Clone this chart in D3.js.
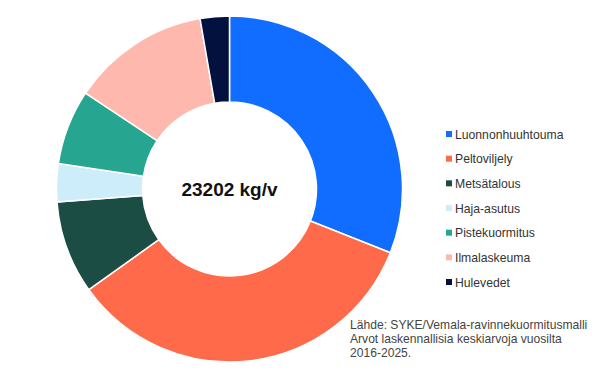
<!DOCTYPE html>
<html><head><meta charset="utf-8">
<script src="https://cdn.jsdelivr.net/npm/d3@7"></script>
<style>body{margin:0;background:#fff}svg{display:block}</style>
</head><body><div id="chart"></div>
<script>
const categories = ["Luonnonhuuhtouma","Peltoviljely","Metsätalous","Haja-asutus","Pistekuormitus","Ilmalaskeuma","Hulevedet"];
const values = [7193, 7914, 2017, 825, 1624, 2997, 632];
const colors = ["#116dff","#ff6b4a","#1b4d45","#ccedf9","#26a690","#ffb8ad","#03113f"];
const centerLabel = "23202 kg/v";
const sourceLines = ["Lähde: SYKE/Vemala-ravinnekuormitusmalli","Arvot laskennallisia keskiarvoja vuosilta","2016-2025."];

const W = 600, H = 379;
const svg = d3.select("#chart").append("svg").attr("width", W).attr("height", H);
const cx = 229.5, cy = 189, rOut = 173, rIn = 87;
const pie = d3.pie().sort(null).value(d => d)(values);
const arc = d3.arc().innerRadius(rIn).outerRadius(rOut);
const color = d3.scaleOrdinal().domain(categories).range(colors);
const g = svg.append("g").attr("transform", `translate(${cx},${cy})`);
g.selectAll("path").data(pie).join("path")
  .attr("d", arc)
  .attr("fill", (d,i) => color(categories[i]))
  .attr("stroke", "#fff").attr("stroke-width", 1.5).attr("stroke-linejoin","round");
g.append("text").attr("text-anchor","middle").attr("y", 7)
  .attr("font-family","Liberation Sans, Arial, sans-serif").attr("font-weight","bold")
  .attr("font-size", 19).attr("fill","#111").text(centerLabel);

const ly = d3.scalePoint().domain(categories).range([134, 282]);
const leg = svg.append("g");
categories.forEach(c => {
  leg.append("rect").attr("x", 446).attr("y", ly(c) - 3).attr("width", 6).attr("height", 6).attr("fill", color(c));
  leg.append("text").attr("x", 455).attr("y", ly(c) + 4.5)
    .attr("font-family","Liberation Sans, Arial, sans-serif").attr("font-size", 12.2)
    .attr("fill","#333").text(c);
});
sourceLines.forEach((t,i) => {
  svg.append("text").attr("x", 350).attr("y", 329 + i*14)
    .attr("font-family","Liberation Sans, Arial, sans-serif").attr("font-size", 12.1)
    .attr("fill","#444").text(t);
});
</script></body></html>
